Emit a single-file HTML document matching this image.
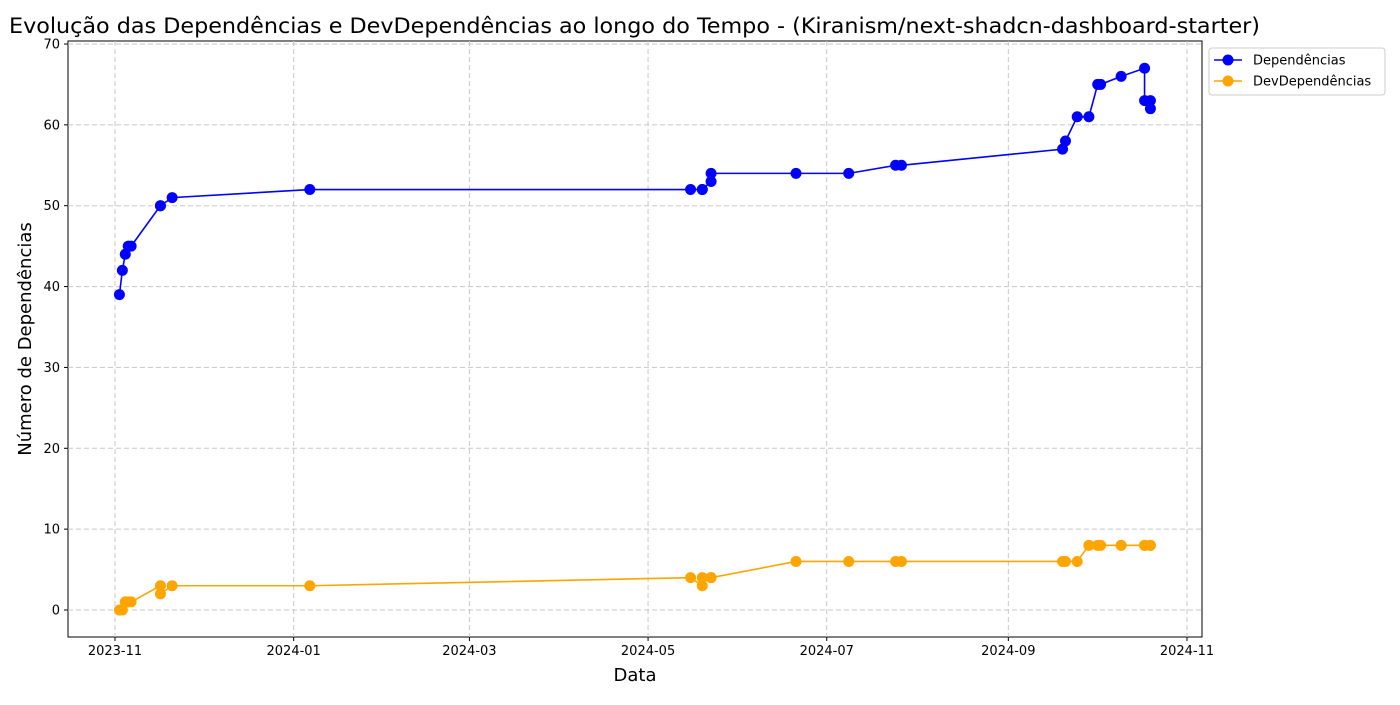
<!DOCTYPE html>
<html><head><meta charset="utf-8"><style>
body{margin:0;background:#fff;font-family:"Liberation Sans","DejaVu Sans",sans-serif;}
svg text{font-family:"DejaVu Sans","Liberation Sans",sans-serif;}
</style></head><body>
<svg id="c" width="1400" height="700"></svg>
<script>
const dates=["2023-11-02","2023-11-03","2023-11-04","2023-11-05","2023-11-06","2023-11-16","2023-11-16","2023-11-20","2024-01-06","2024-05-15","2024-05-19","2024-05-19","2024-05-22","2024-05-22","2024-06-20","2024-07-08","2024-07-24","2024-07-26","2024-09-19","2024-09-20","2024-09-24","2024-09-28","2024-10-01","2024-10-02","2024-10-09","2024-10-17","2024-10-17","2024-10-19","2024-10-19"];
const deps=[39,42,44,45,45,50,50,51,52,52,52,52,53,54,54,54,55,55,57,58,61,61,65,65,66,67,63,63,62];
const devDeps=[0,0,1,1,1,3,2,3,3,4,3,4,4,4,6,6,6,6,6,6,6,8,8,8,8,8,8,8,8];
const xTicks=["2023-11","2024-01","2024-03","2024-05","2024-07","2024-09","2024-11"];
const yTicks=[0,10,20,30,40,50,60,70];
const NS="http://www.w3.org/2000/svg",svg=document.getElementById('c');
const L=68,R=1202,T=41,B=637;
const t0=Date.UTC(2023,10,1),t1=Date.UTC(2024,10,1);
const x=d=>{const p=d.split('-').map(Number);const t=Date.UTC(p[0],p[1]-1,p[2]||1);return 115+(t-t0)/(t1-t0)*(1187-115);};
const xp=d=>x(d)+1.5;
const y=v=>610-v*(566/70);
function el(tag,a,txt){const e=document.createElementNS(NS,tag);for(const k in a)e.setAttribute(k,a[k]);if(txt!=null)e.textContent=txt;svg.appendChild(e);return e;}
let e;
e=el('rect',{x:L,y:T,width:R-L,height:B-T,fill:'#fff',stroke:'#000','stroke-width':1});


xTicks.forEach(s=>{const X=x(s);
e=el('line',{x1:X,x2:X,y1:T,y2:B,stroke:'#c8c8c8','stroke-dasharray':'5,3'});


el('line',{x1:X,x2:X,y1:B,y2:B+4,stroke:'#000'});
e=el('text',{x:X,y:B+18,'text-anchor':'middle','font-size':13},s);

});
yTicks.forEach(v=>{const Y=y(v);
e=el('line',{x1:L,x2:R,y1:Y,y2:Y,stroke:'#c8c8c8','stroke-dasharray':'5,3'});


el('line',{x1:L-4,x2:L,y1:Y,y2:Y,stroke:'#000'});
e=el('text',{x:L-8,y:Y+4.5,'text-anchor':'end','font-size':13},v);

});
function series(vals,col,name){
e=el('polyline',{points:vals.map((v,i)=>xp(dates[i])+','+y(v)).join(' '),fill:'none',stroke:col,'stroke-width':1.6});


vals.forEach((v,i)=>{e=el('circle',{cx:xp(dates[i]),cy:y(v),r:5.5,fill:col});

});}
series(deps,'#0000ff','dependencias');
series(devDeps,'#ffa500','devdependencias');
e=el('text',{x:634.5,y:33,'text-anchor':'middle','font-size':21,textLength:1251,lengthAdjust:'spacingAndGlyphs'},'Evolução das Dependências e DevDependências ao longo do Tempo - (Kiranism/next-shadcn-dashboard-starter)');


e=el('text',{x:635,y:681,'text-anchor':'middle','font-size':18},'Data');


e=el('text',{x:31,y:339,'text-anchor':'middle','font-size':18,transform:'rotate(-90 31 339)'},'Número de Dependências');


e=el('rect',{x:1209,y:48,width:176,height:47,rx:3,fill:'#fff',stroke:'#ccc'});


[['#0000ff','Dependências',60],['#ffa500','DevDependências',81]].forEach(a=>{
el('line',{x1:1214,x2:1242,y1:a[2],y2:a[2],stroke:a[0],'stroke-width':1.6});
el('circle',{cx:1228,cy:a[2],r:5.5,fill:a[0]});
e=el('text',{x:1253,y:a[2]+4.5,'font-size':13},a[1]);

});
</script>
</body></html>
